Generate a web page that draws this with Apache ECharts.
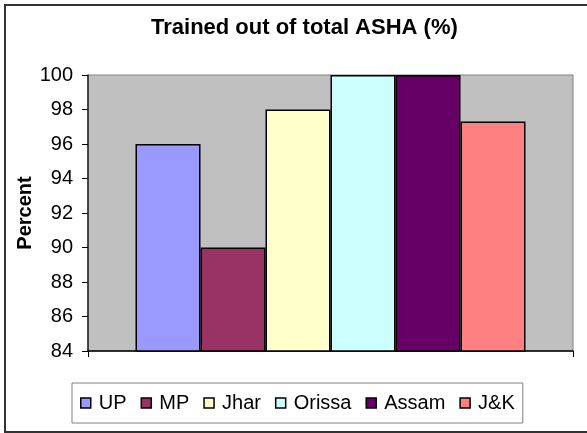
<!DOCTYPE html>
<html>
<head>
<meta charset="utf-8">
<script src="https://cdn.jsdelivr.net/npm/echarts@6/dist/echarts.min.js"></script>
<style>
  html, body { margin: 0; padding: 0; background: #fff; }
  #chart { width: 587px; height: 433px; }
</style>
</head>
<body>
<div id="chart"></div>
<script>
  // values
  const states = ['UP', 'MP', 'Jhar', 'Orissa', 'Assam', 'J&K']
  const trained = [96, 90, 98, 100, 100, 97.3]
  const colors = ['#9999FF', '#993366', '#FFFFCC', '#CCFFFF', '#660066', '#FF8080']
  const yTicks = { min: 84, max: 100, step: 2 }

  const chart = echarts.init(document.getElementById('chart'))

  const series = states.map((name, i) => ({
    name: name,
    type: 'bar',
    data: [trained[i]],
    barWidth: 65,
    barGap: '0%',
    itemStyle: {
      color: colors[i],
      borderColor: '#000',
      borderWidth: 1.5
    }
  }))

  chart.setOption({
    animation: false,
    textStyle: { fontFamily: 'Arial, Liberation Sans, sans-serif' },
    title: {
      text: 'Trained out of total ASHA (%)',
      left: 146,
      top: 12,
      textStyle: { fontSize: 22, fontWeight: 'bold', color: '#000' }
    },
    // outer chart frame
    graphic: [{
      type: 'rect',
      shape: { x: 5, y: 5, width: 640, height: 427 },
      style: { fill: null, stroke: '#333', lineWidth: 2 },
      silent: true
    }],
    grid: {
      left: 88,
      top: 75,
      width: 485,
      height: 276,
      show: true,
      backgroundColor: '#C0C0C0',
      borderColor: '#808080',
      borderWidth: 1
    },
    legend: {
      data: states,
      left: 72,
      top: 383,
      itemWidth: 10,
      itemHeight: 10,
      itemGap: 14,
      padding: [10, 8],
      borderColor: '#808080',
      borderWidth: 1,
      icon: 'rect',
      itemStyle: { borderColor: '#000', borderWidth: 1.5 },
      textStyle: { fontSize: 20, color: '#000', padding: [0, 0, 0, 3] }
    },
    xAxis: {
      type: 'category',
      data: [''],
      axisLine: { lineStyle: { color: '#000', width: 1.5 } },
      axisTick: { show: true, length: 6, lineStyle: { color: '#000' } },
      axisLabel: { show: false }
    },
    yAxis: {
      type: 'value',
      min: yTicks.min,
      max: yTicks.max,
      interval: yTicks.step,
      name: 'Percent',
      nameLocation: 'middle',
      nameRotate: 90,
      nameGap: 53,
      nameMoveOverlap: false,
      nameTextStyle: { fontSize: 20, fontWeight: 'bold', color: '#000' },
      axisLine: { show: true, lineStyle: { color: '#222', width: 1.5 } },
      axisTick: { show: true, length: 6, lineStyle: { color: '#000' } },
      splitLine: { show: false },
      axisLabel: { fontSize: 20, color: '#000', margin: 15 }
    },
    series: series
  })
</script>
</body>
</html>
